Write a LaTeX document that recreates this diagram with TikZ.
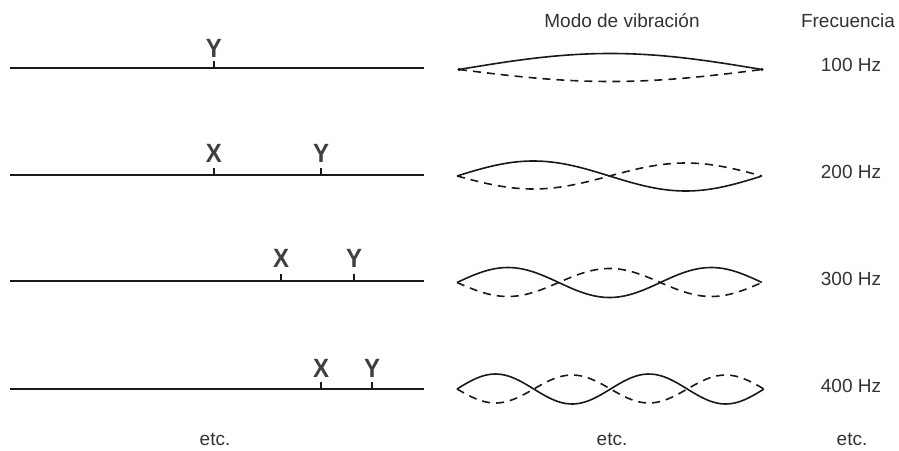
\documentclass[tikz,border=0pt]{standalone}
\usepackage{fontspec}
\setmainfont{Liberation Sans}
\begin{document}
\begin{tikzpicture}[x=1pt,y=-1pt,
  string/.style={line width=1.9pt, black!90},
  marker/.style={line width=1.5pt, black!90},
  point/.style={font=\bfseries\fontsize{24}{24}\selectfont, text=black!75, inner sep=0pt, anchor=base, yscale=1.1},
  lbl/.style={font=\fontsize{19}{19}\selectfont, text=black!80, inner sep=0pt, anchor=base},
  wave/.style={line width=1.6pt, black!90, smooth, samples=80, domain=0:1},
  antiwave/.style={wave, dash pattern=on 8pt off 6pt}]
\useasboundingbox (0,0) rectangle (899,450);

% column headings
\node[lbl] (hmode) at (622,27) {Modo de vibración};
\node[lbl] (hfreq) at (848,27) {Frecuencia};

% strings with the stopping points
\foreach \row/\yy in {1/68, 2/175, 3/281, 4/389} {
  \coordinate (s\row a) at (10,\yy);
  \coordinate (s\row b) at (424,\yy);
  \draw[string] (s\row a) -- (s\row b);
}

% row 1
\coordinate (y1) at (214,68);
\draw[marker] (y1) -- ++(0,-7);
\node[point] (ly1) at (214,57) {Y};
% row 2
\coordinate (x2) at (214,175);
\coordinate (y2) at (321,175);
\draw[marker] (x2) -- ++(0,-7);
\draw[marker] (y2) -- ++(0,-7);
\node[point] (lx2) at (214,162) {X};
\node[point] (ly2) at (321,162) {Y};
% row 3
\coordinate (x3) at (281,281);
\coordinate (y3) at (354,281);
\draw[marker] (x3) -- ++(0,-7);
\draw[marker] (y3) -- ++(0,-7);
\node[point] (lx3) at (281,267) {X};
\node[point] (ly3) at (354,267) {Y};
% row 4
\coordinate (x4) at (321,389);
\coordinate (y4) at (372,389);
\draw[marker] (x4) -- ++(0,-7);
\draw[marker] (y4) -- ++(0,-7);
\node[point] (lx4) at (321,377) {X};
\node[point] (ly4) at (372,377) {Y};

% vibration modes: solid and dashed extremes of each standing wave
% (parameter \x runs from 0 to 1 along the string)
\draw[wave] plot ({459+303*\x},{69.5-16*sin(180*\x)});
\draw[antiwave] plot ({459+303*\x},{69.5+12*sin(180*\x)});
\fill (459,69.5) circle (1.6pt);
\fill (762,69.5) circle (1.6pt);

\draw[wave] plot ({457+305*\x},{176-15*sin(360*\x)});
\draw[antiwave] plot ({457+305*\x},{176+13*sin(360*\x)});

\draw[wave] plot ({457+305*\x},{282.5-15*sin(540*\x)});
\draw[antiwave] plot ({457+305*\x},{282.5+14*sin(540*\x)});

\draw[wave] plot ({457+307*\x},{389-15*sin(720*\x)});
\draw[antiwave] plot ({457+307*\x},{389+14*sin(720*\x)});

% frequencies
\node[lbl] (f1) at (851,71) {100 Hz};
\node[lbl] (f2) at (851,178) {200 Hz};
\node[lbl] (f3) at (851,285) {300 Hz};
\node[lbl] (f4) at (851,392) {400 Hz};

% continuation marks
\node[lbl] (e1) at (215,445) {etc.};
\node[lbl] (e2) at (612,445) {etc.};
\node[lbl] (e3) at (852,445) {etc.};
\end{tikzpicture}
\end{document}
